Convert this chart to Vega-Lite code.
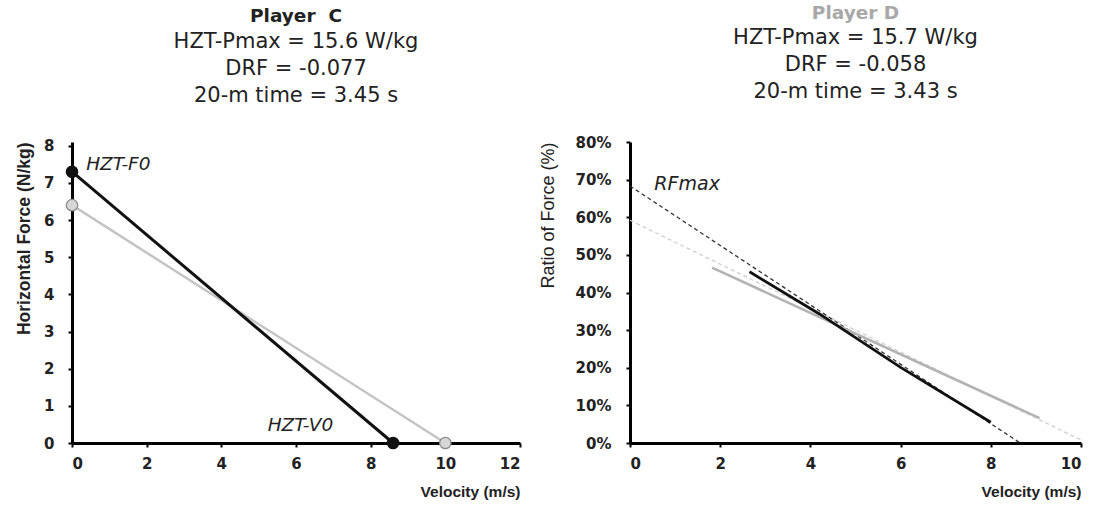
{
  "$schema": "https://vega.github.io/schema/vega-lite/v6.json",
  "background": "white",
  "padding": {"left": 15, "top": 3, "right": 5, "bottom": 5},
  "spacing": 18,
  "datasets": {
    "leftLines": [
      {"player": "C", "v": 0, "f": 7.3},
      {"player": "C", "v": 8.6, "f": 0},
      {"player": "D", "v": 0, "f": 6.4},
      {"player": "D", "v": 10, "f": 0}
    ],
    "leftLabels": [
      {"label": "HZT-F0", "v": 0.38, "f": 7.52},
      {"label": "HZT-V0", "v": 5.24, "f": 0.49}
    ],
    "rightDash": [
      {"player": "C", "v": 0, "r": 0.683},
      {"player": "C", "v": 8.65, "r": 0.0},
      {"player": "D", "v": 0, "r": 0.592},
      {"player": "D", "v": 10, "r": 0.008}
    ],
    "rightSolid": [
      {"player": "C", "v": 2.65, "r": 0.455},
      {"player": "C", "v": 4.2, "r": 0.343},
      {"player": "C", "v": 6.0, "r": 0.201},
      {"player": "C", "v": 8.0, "r": 0.055},
      {"player": "D", "v": 1.82, "r": 0.466},
      {"player": "D", "v": 9.08, "r": 0.066}
    ],
    "rightLabels": [
      {"label": "RFmax", "v": 0.54, "r": 0.689}
    ]
  },
  "hconcat": [
    {
      "width": 448,
      "height": 301,
      "title": {
        "text": "Player\u00a0 C",
        "subtitle": ["HZT-Pmax = 15.6 W/kg", "DRF = -0.077", "20-m time = 3.45 s"],
        "color": "#222222",
        "offset": 33
      },
      "layer": [
        {
          "data": {"name": "leftLines"},
          "transform": [{"filter": "datum.player == 'D'"}],
          "mark": {"type": "line", "strokeWidth": 2.5},
          "encoding": {
            "x": {"field": "v", "type": "quantitative", "scale": {"domain": [0, 12], "nice": false}, "axis": {"title": "Velocity (m/s)", "values": [0, 2, 4, 6, 8, 10, 12], "tickCount": 20, "format": "d", "labelOverlap": false}},
            "y": {"field": "f", "type": "quantitative", "scale": {"domain": [0, 8.1], "nice": false}, "axis": {"title": "Horizontal Force (N/kg)", "values": [0, 1, 2, 3, 4, 5, 6, 7, 8], "tickCount": 20, "format": "d", "labelOverlap": false, "titleFontSize": 17.5, "labelPadding": 14, "titlePadding": 10}},
            "color": {"field": "player", "type": "nominal", "scale": {"domain": ["C", "D"], "range": ["#111111", "#c4c4c4"]}, "legend": null}
          }
        },
        {
          "data": {"name": "leftLines"},
          "transform": [{"filter": "datum.player == 'C'"}],
          "mark": {"type": "line", "strokeWidth": 3},
          "encoding": {
            "x": {"field": "v", "type": "quantitative"},
            "y": {"field": "f", "type": "quantitative"},
            "color": {"field": "player", "type": "nominal", "legend": null}
          }
        },
        {
          "data": {"name": "leftLines"},
          "mark": {"type": "point", "filled": true, "size": 130, "strokeWidth": 1.2, "opacity": 1},
          "encoding": {
            "x": {"field": "v", "type": "quantitative"},
            "y": {"field": "f", "type": "quantitative"},
            "fill": {"field": "player", "type": "nominal", "scale": {"domain": ["C", "D"], "range": ["#111111", "#d6d6d6"]}, "legend": null},
            "stroke": {"field": "player", "type": "nominal", "scale": {"domain": ["C", "D"], "range": ["#111111", "#8a8a8a"]}, "legend": null}
          }
        },
        {
          "data": {"name": "leftLabels"},
          "mark": {"type": "text", "align": "left", "baseline": "middle", "font": "DejaVu Sans", "fontStyle": "italic", "fontSize": 18.5, "color": "#222222"},
          "encoding": {
            "x": {"field": "v", "type": "quantitative"},
            "y": {"field": "f", "type": "quantitative"},
            "text": {"field": "label"}
          }
        }
      ]
    },
    {
      "width": 451,
      "height": 301,
      "title": {
        "text": "Player D",
        "subtitle": ["HZT-Pmax = 15.7 W/kg", "DRF = -0.058", "20-m time = 3.43 s"],
        "color": "#a8a8a8",
        "offset": 33
      },
      "layer": [
        {
          "data": {"name": "rightDash"},
          "transform": [{"filter": "datum.player == 'D'"}],
          "mark": {"type": "line", "strokeWidth": 1.3, "strokeDash": [4, 3]},
          "encoding": {
            "x": {"field": "v", "type": "quantitative", "scale": {"domain": [0, 10], "nice": false}, "axis": {"title": "Velocity (m/s)", "values": [0, 2, 4, 6, 8, 10], "tickCount": 20, "format": "d", "labelOverlap": false}},
            "y": {"field": "r", "type": "quantitative", "scale": {"domain": [0, 0.8], "nice": false}, "axis": {"title": "Ratio of Force (%)", "format": ".0%", "values": [0, 0.1, 0.2, 0.3, 0.4, 0.5, 0.6, 0.7, 0.8], "tickCount": 20, "labelOverlap": false, "titleFontWeight": "normal", "titleFontSize": 18, "labelPadding": 15, "titlePadding": 18}},
            "color": {"field": "player", "type": "nominal", "scale": {"domain": ["C", "D"], "range": ["#333333", "#cfcfcf"]}, "legend": null}
          }
        },
        {
          "data": {"name": "rightDash"},
          "transform": [{"filter": "datum.player == 'C'"}],
          "mark": {"type": "line", "strokeWidth": 1.3, "strokeDash": [4, 3]},
          "encoding": {
            "x": {"field": "v", "type": "quantitative"},
            "y": {"field": "r", "type": "quantitative"},
            "color": {"field": "player", "type": "nominal", "legend": null}
          }
        },
        {
          "data": {"name": "rightSolid"},
          "transform": [{"filter": "datum.player == 'D'"}],
          "mark": {"type": "line", "strokeWidth": 2.6},
          "encoding": {
            "x": {"field": "v", "type": "quantitative"},
            "y": {"field": "r", "type": "quantitative"},
            "stroke": {"field": "player", "type": "nominal", "scale": {"domain": ["C", "D"], "range": ["#111111", "#b3b3b3"]}, "legend": null}
          }
        },
        {
          "data": {"name": "rightSolid"},
          "transform": [{"filter": "datum.player == 'C'"}],
          "mark": {"type": "line", "strokeWidth": 2.8},
          "encoding": {
            "x": {"field": "v", "type": "quantitative"},
            "y": {"field": "r", "type": "quantitative"},
            "stroke": {"field": "player", "type": "nominal", "legend": null}
          }
        },
        {
          "data": {"name": "rightLabels"},
          "mark": {"type": "text", "align": "left", "baseline": "middle", "font": "DejaVu Sans", "fontStyle": "italic", "fontSize": 19, "color": "#222222"},
          "encoding": {
            "x": {"field": "v", "type": "quantitative"},
            "y": {"field": "r", "type": "quantitative"},
            "text": {"field": "label"}
          }
        }
      ]
    }
  ],
  "resolve": {"scale": {"color": "independent", "stroke": "independent"}},
  "config": {
    "view": {"stroke": null},
    "font": "DejaVu Sans",
    "title": {
      "font": "DejaVu Sans",
      "fontSize": 18.5,
      "fontWeight": "bold",
      "subtitleFont": "DejaVu Sans",
      "subtitleFontSize": 21,
      "subtitleColor": "#222222",
      "subtitleLineHeight": 27,
      "subtitlePadding": 5,
      "frame": "group",
      "anchor": "middle"
    },
    "axis": {
      "domainColor": "#000000",
      "domainWidth": 3,
      "tickColor": "#000000",
      "tickWidth": 2,
      "tickSize": 4,
      "grid": false,
      "labelOverlap": false,
      "labelFont": "DejaVu Sans",
      "labelFontWeight": "bold",
      "labelFontSize": 15,
      "labelColor": "#222222",
      "titleFont": "Liberation Sans",
      "titleFontWeight": "bold",
      "titleFontSize": 15.5,
      "titleColor": "#222222"
    },
    "axisX": {"labelPadding": 9, "titlePadding": 13, "titleAnchor": "end"},
    "axisY": {"titleAnchor": "end"}
  }
}
